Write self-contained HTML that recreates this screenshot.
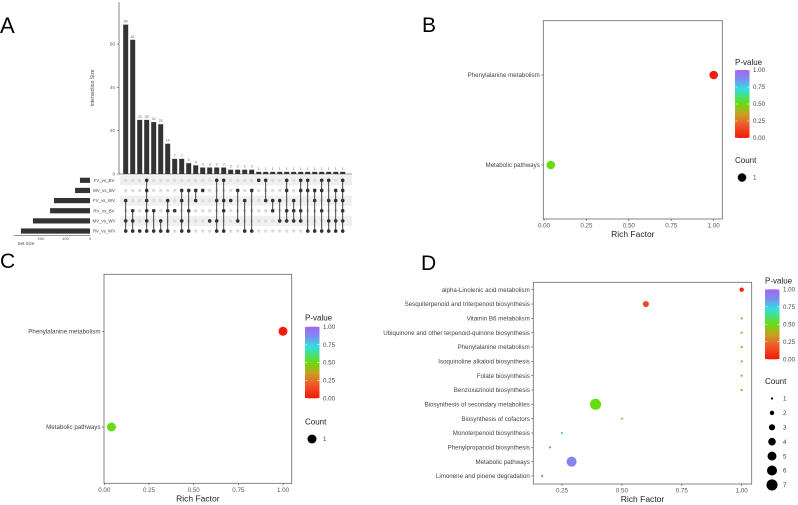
<!DOCTYPE html>
<html><head><meta charset="utf-8"><style>
html,body{margin:0;padding:0;background:#fff;}
svg{display:block;font-family:"Liberation Sans",sans-serif;}
</style></head><body>
<svg id="fig" width="798" height="505" viewBox="0 0 798 505">
<defs>
<linearGradient id="pgrad" x1="0" y1="1" x2="0" y2="0">
<stop offset="0" stop-color="#f01a0a"/><stop offset="0.2" stop-color="#f05a2a"/><stop offset="0.35" stop-color="#c8a020"/>
<stop offset="0.5" stop-color="#66dd11"/><stop offset="0.72" stop-color="#30e0e0"/><stop offset="0.86" stop-color="#7890f0"/><stop offset="1" stop-color="#a862ee"/>
</linearGradient>
</defs>
<text x="0" y="33" font-size="22" fill="#000">A</text>
<text x="422" y="32" font-size="21" fill="#000">B</text>
<text x="0" y="268" font-size="21" fill="#000">C</text>
<text x="421" y="270" font-size="21" fill="#000">D</text>
</svg>
<script>
// ---------- Panel A data ----------
const intersectionSizes=[69,62,25,25,24,23,14,7,7,5,4,3,3,3,3,2,2,2,2,1,1,1,1,1,1,1,1,1,1,1,1,1];
const intersectionSets=[[2,4,5],[3,4,5],[5],[0,1,2,3,4,5],[3,5],[4,5],[2,3,5],[3],[1,2,4,5],[1,3,5],[1,2],[1],[4],[0,2,4,5],[0,2,3,5],[2],[1,4],[2,5],[1,5],[0],[0,2],[2,3],[2,4],[0,1,3,4],[2,3,4],[0,1,3,4],[0,1,5],[1,2,5],[0,1,3,5],[0,2,4,5],[1,2,4,5],[0,1,2,3,4,5]];
const setNames=["FV_vs_BV","MV_vs_BV","FV_vs_WV","RV_vs_BV","MV_vs_WV","RV_vs_WV"];
const setSizes=[41,61,147,163,233,282];
const interTicks=[0,20,40,60];
const setTicks=[200,100,0];

// ---------- Panel B/C data ----------
const bTerms=["Phenylalanine metabolism","Metabolic pathways"];
const bRich=[1.0,0.04];
const bPval=[0.01,0.5];
const bCount=[1,1];
const cTerms=["Phenylalanine metabolism","Metabolic pathways"];
const cRich=[1.0,0.04];
const cPval=[0.01,0.5];
const cCount=[1,1];

// ---------- Panel D data ----------
const dTerms=["alpha-Linolenic acid metabolism","Sesquiterpenoid and triterpenoid biosynthesis","Vitamin B6 metabolism","Ubiquinone and other terpenoid-quinone biosynthesis","Phenylalanine metabolism","Isoquinoline alkaloid biosynthesis","Folate biosynthesis","Benzoxazinoid biosynthesis","Biosynthesis of secondary metabolites","Biosynthesis of cofactors","Monoterpenoid biosynthesis","Phenylpropanoid biosynthesis","Metabolic pathways","Limonene and pinene degradation"];
const dRich=[1.0,0.6,1.0,1.0,1.0,1.0,1.0,1.0,0.39,0.5,0.25,0.2,0.29,0.167];
const dPval=[0.05,0.15,0.33,0.33,0.33,0.33,0.33,0.33,0.5,0.55,0.78,0.9,0.9,0.92];
const dCount=[2,3,1,1,1,1,1,1,7,1,1,1,6,1];
const xTicks=[0,0.25,0.5,0.75,1.0];
const pTicks=[0,0.25,0.5,0.75,1.0];

const NS="http://www.w3.org/2000/svg";
const svg=document.getElementById('fig');
function mk(tag,attrs,parent){const e=document.createElementNS(NS,tag);for(const k in attrs)e.setAttribute(k,attrs[k]);(parent||svg).appendChild(e);return e;}
function txt(s,attrs){const e=mk('text',attrs);e.textContent=s;return e;}

function pColor(p){
  const st=[[0,[240,26,10]],[0.2,[240,90,42]],[0.35,[200,160,32]],[0.5,[102,221,17]],[0.72,[48,224,224]],[0.86,[120,144,240]],[1,[168,98,238]]];
  for(let i=1;i<st.length;i++){if(p<=st[i][0]){const a=st[i-1],b=st[i];const t=(p-a[0])/(b[0]-a[0]);const c=a[1].map((v,j)=>Math.round(v+(b[1][j]-v)*t));return 'rgb('+c.join(',')+')';}}
  return 'rgb(168,98,238)';
}

// ---------- Panel A drawing ----------
(function(){
  const x0=125.7, dx=7, yBase=174, ky=2.165;
  const bx=i=>x0+dx*i, by=v=>yBase-v*ky;
  const rowY=r=>180.3+r*10.15;
  const ax=mk('line',{x1:119,y1:2,x2:119,y2:yBase,stroke:'#333','stroke-width':0.6});
  
  
  interTicks.forEach(t=>{
    const tl=txt(String(t),{x:115,y:by(t)+1.5,'font-size':4.5,'text-anchor':'end',fill:'#555'});
    
    
    mk('line',{x1:117,x2:119,y1:by(t),y2:by(t),stroke:'#333','stroke-width':0.5});
  });
  const yt=txt('Intersection Size',{x:0,y:0,'font-size':5,'text-anchor':'middle',fill:'#444',transform:'translate(94,88) rotate(-90)'});
  
  
  mk('line',{x1:119,x2:352,y1:yBase,y2:yBase,stroke:'#333','stroke-width':0.5});
  intersectionSizes.forEach((v,i)=>{
    const r=mk('rect',{x:bx(i)-2.5,y:by(v),width:5,height:yBase-by(v),fill:'#333'});
    
    
    const l=txt(String(v),{x:bx(i),y:by(v)-2,'font-size':3.6,'text-anchor':'middle',fill:'#666'});
    
    
  });
  setNames.forEach((n,r)=>{
    if(r%2==0){const s=mk('rect',{x:120,y:rowY(r)-5,width:232,height:10.15,fill:'#f0f0f0'});
      
      }
  });
  intersectionSets.forEach((sets,i)=>{
    for(let r=0;r<6;r++){mk('circle',{cx:bx(i),cy:rowY(r),r:1.7,fill:'#dcdcdc'});}
    const mn=Math.min(...sets),mx=Math.max(...sets);
    if(mx>mn){const ln=mk('line',{x1:bx(i),x2:bx(i),y1:rowY(mn),y2:rowY(mx),stroke:'#333','stroke-width':0.9});
      
      }
    sets.forEach(r=>{const c=mk('circle',{cx:bx(i),cy:rowY(r),r:1.8,fill:'#333'});
      
      });
  });
  const sx=v=>90-v*0.245;
  setNames.forEach((n,r)=>{
    const b=mk('rect',{x:sx(setSizes[r]),y:rowY(r)-2.6,width:90-sx(setSizes[r]),height:5.2,fill:'#333'});
    
    
    const t=txt(n,{x:104,y:rowY(r)+1.6,'font-size':4.4,'text-anchor':'middle',fill:'#444'});
    
    
  });
  mk('line',{x1:14,x2:90,y1:235.5,y2:235.5,stroke:'#333','stroke-width':0.5});
  setTicks.forEach(t=>{
    const tl=txt(String(t),{x:sx(t),y:240,'font-size':4,'text-anchor':'middle',fill:'#555'});
    
    
  });
  const st=txt('Set Size',{x:26,y:245,'font-size':4.5,'text-anchor':'middle',fill:'#444'});
  
  
})();

// ---------- bubble panels ----------
function bubble(cfg,terms,rich,pval,count){
  const {L,R,T,B,x0px,x1px,y0,y1,cbX,cbT,cbB,ptY,cntY,cntItems,rScale,name}=cfg;
  const sx=v=>x0px+(x1px-x0px)*v;
  const n=terms.length;
  const sy=i=>n==1?y0:y0+(y1-y0)*i/(n-1);
  const fr=mk('rect',{x:L,y:T,width:R-L,height:B-T,fill:'#fff',stroke:'#666','stroke-width':0.8});
  
  
  terms.forEach((t,i)=>{
    mk('line',{x1:L-2,x2:L,y1:sy(i),y2:sy(i),stroke:'#444','stroke-width':0.6});
    const tl=txt(t,{x:L-3.5,y:sy(i)+2.1,'font-size':6.2,'text-anchor':'end',fill:'#444'});
    
    
  });
  xTicks.forEach(v=>{
    if(sx(v)<L-0.5||sx(v)>R+0.5) return;
    mk('line',{x1:sx(v),x2:sx(v),y1:B,y2:B+2,stroke:'#444','stroke-width':0.6});
    const tl=txt(v.toFixed(2),{x:sx(v),y:B+8.5,'font-size':6.2,'text-anchor':'middle',fill:'#555'});
    
    
  });
  const xt=txt('Rich Factor',{x:(L+R)/2,y:B+18,'font-size':8.5,'text-anchor':'middle',fill:'#222'});
  
  
  terms.forEach((t,i)=>{
    const c=mk('circle',{cx:sx(rich[i]),cy:sy(i),r:rScale(count[i]),fill:pColor(pval[i])});
    
    
  });
  const pt=txt('P-value',{x:cbX,y:ptY,'font-size':8,fill:'#222'});
  
  
  const cb=mk('rect',{x:cbX,y:cbT,width:14.5,height:cbB-cbT,fill:'url(#pgrad)'});
  
  
  pTicks.forEach(v=>{
    const y=cbB-(cbB-cbT)*v;
    mk('line',{x1:cbX,x2:cbX+2.5,y1:y,y2:y,stroke:'#fff','stroke-width':0.5});
    mk('line',{x1:cbX+12,x2:cbX+14.5,y1:y,y2:y,stroke:'#fff','stroke-width':0.5});
    const tl=txt(v.toFixed(2),{x:cbX+18,y:y+2.2,'font-size':6.2,fill:'#444'});
    
    
  });
  const ct=txt('Count',{x:cbX,y:cntY,'font-size':8,fill:'#222'});
  
  
  cntItems.forEach((k,j)=>{
    const y=cntY+14.5+j*14.4;
    const c=mk('circle',{cx:cbX+7,cy:y,r:rScale(k),fill:'#000'});
    
    
    const tl=txt(String(k),{x:cbX+18,y:y+2.2,'font-size':6.2,fill:'#444'});
    
    
  });
}
bubble({name:'panel-b',L:543.3,R:722.3,T:20.7,B:219,x0px:544,x1px:713.7,y0:75,y1:165,cbX:735,cbT:70,cbB:138,ptY:65,cntY:163,cntItems:[1],rScale:()=>4.3},bTerms,bRich,bPval,bCount);
bubble({name:'panel-c',L:104,R:291.7,T:274.3,B:483.3,x0px:104.3,x1px:283,y0:331.3,y1:427,cbX:305,cbT:326.7,cbB:398.3,ptY:320.5,cntY:424.5,cntItems:[1],rScale:()=>4.5},cTerms,cRich,cPval,cCount);
bubble({name:'panel-d',L:533.3,R:751.7,T:282.3,B:484,x0px:502.1,x1px:741.7,y0:289.7,y1:476,cbX:765,cbT:289.3,cbB:359.3,ptY:283.5,cntY:384,cntItems:[1,2,3,4,5,6,7],rScale:k=>Math.max(1,-1.6+Math.sqrt(k)*2.7)},dTerms,dRich,dPval,dCount);
</script>
</body></html>
